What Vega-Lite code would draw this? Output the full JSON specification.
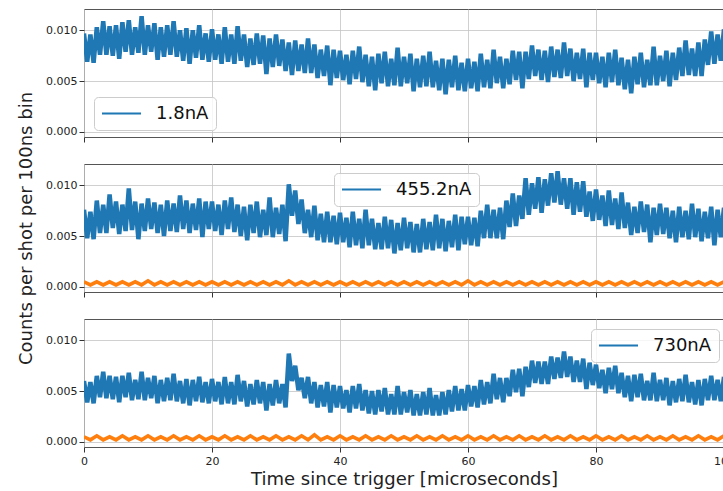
{
"$schema": "https://vega.github.io/schema/vega-lite/v6.json",
"background": "white",
"padding": {"left": 17, "top": 8, "right": -3, "bottom": 0},
"bounds": "flush",
"spacing": 27,
"config": {
 "font": "DejaVu Sans",
 "view": {"stroke": "#555", "strokeWidth": 1},
 "axis": {"labelFont": "DejaVu Sans", "labelFontSize": 11, "labelColor": "#222", "tickColor": "#333", "tickSize": 5, "grid": true, "gridColor": "#c4c4c4", "gridWidth": 0.8, "domain": false, "labelFlush": false, "titleFont": "DejaVu Sans", "titleFontSize": 18, "titleFontWeight": "normal", "titleColor": "#222"},
 "legend": {"orient": "none", "title": null, "symbolType": "stroke", "symbolSize": 1521, "symbolStrokeWidth": 2, "clipHeight": 19, "labelFont": "DejaVu Sans", "labelFontSize": 18, "labelColor": "#111", "labelOffset": 14, "padding": 7, "strokeColor": "#cccccc", "fillColor": "rgba(255,255,255,0.8)", "cornerRadius": 4}
},
"resolve": {"scale": {"color": "independent"}, "legend": {"color": "independent"}},
"datasets": {
"p1": [{"t":0,"v":0.0097},{"t":0.5,"v":0.0069},{"t":1,"v":0.0096},{"t":1.5,"v":0.0068},{"t":2,"v":0.0103},{"t":2.5,"v":0.0076},{"t":3,"v":0.0109},{"t":3.5,"v":0.0076},{"t":4,"v":0.0104},{"t":4.5,"v":0.0075},{"t":5,"v":0.0105},{"t":5.5,"v":0.0072},{"t":6,"v":0.0108},{"t":6.5,"v":0.0079},{"t":7,"v":0.011},{"t":7.5,"v":0.0076},{"t":8,"v":0.0103},{"t":8.5,"v":0.0078},{"t":9,"v":0.0114},{"t":9.5,"v":0.0076},{"t":10,"v":0.0105},{"t":10.5,"v":0.0079},{"t":11,"v":0.0107},{"t":11.5,"v":0.0071},{"t":12,"v":0.0103},{"t":12.5,"v":0.0074},{"t":13,"v":0.0105},{"t":13.5,"v":0.0076},{"t":14,"v":0.0109},{"t":14.5,"v":0.0074},{"t":15,"v":0.01},{"t":15.5,"v":0.007},{"t":16,"v":0.0102},{"t":16.5,"v":0.0067},{"t":17,"v":0.01},{"t":17.5,"v":0.0073},{"t":18,"v":0.0105},{"t":18.5,"v":0.0071},{"t":19,"v":0.0097},{"t":19.5,"v":0.0069},
{"t":20,"v":0.0101},{"t":20.5,"v":0.0071},{"t":21,"v":0.0096},{"t":21.5,"v":0.0067},{"t":22,"v":0.0103},{"t":22.5,"v":0.0069},{"t":23,"v":0.0096},{"t":23.5,"v":0.0067},{"t":24,"v":0.0104},{"t":24.5,"v":0.007},{"t":25,"v":0.0096},{"t":25.5,"v":0.0064},{"t":26,"v":0.0092},{"t":26.5,"v":0.0066},{"t":27,"v":0.0097},{"t":27.5,"v":0.0067},{"t":28,"v":0.0095},{"t":28.5,"v":0.0057},{"t":29,"v":0.0092},{"t":29.5,"v":0.0064},{"t":30,"v":0.0096},{"t":30.5,"v":0.0065},{"t":31,"v":0.0091},{"t":31.5,"v":0.006},{"t":32,"v":0.0088},{"t":32.5,"v":0.0056},{"t":33,"v":0.009},{"t":33.5,"v":0.006},{"t":34,"v":0.0086},{"t":34.5,"v":0.0058},{"t":35,"v":0.0092},{"t":35.5,"v":0.0058},{"t":36,"v":0.0086},{"t":36.5,"v":0.0053},{"t":37,"v":0.0081},{"t":37.5,"v":0.0055},{"t":38,"v":0.0085},{"t":38.5,"v":0.0046},{"t":39,"v":0.0081},{"t":39.5,"v":0.0053},
{"t":40,"v":0.008},{"t":40.5,"v":0.0051},{"t":41,"v":0.0076},{"t":41.5,"v":0.0047},{"t":42,"v":0.008},{"t":42.5,"v":0.0052},{"t":43,"v":0.0084},{"t":43.5,"v":0.0049},{"t":44,"v":0.0076},{"t":44.5,"v":0.0045},{"t":45,"v":0.0074},{"t":45.5,"v":0.0041},{"t":46,"v":0.0077},{"t":46.5,"v":0.0048},{"t":47,"v":0.0079},{"t":47.5,"v":0.0045},{"t":48,"v":0.0072},{"t":48.5,"v":0.0046},{"t":49,"v":0.0083},{"t":49.5,"v":0.0045},{"t":50,"v":0.0074},{"t":50.5,"v":0.0048},{"t":51,"v":0.0077},{"t":51.5,"v":0.004},{"t":52,"v":0.0072},{"t":52.5,"v":0.0044},{"t":53,"v":0.0075},{"t":53.5,"v":0.0045},{"t":54,"v":0.0079},{"t":54.5,"v":0.0044},{"t":55,"v":0.007},{"t":55.5,"v":0.0041},{"t":56,"v":0.0072},{"t":56.5,"v":0.0037},{"t":57,"v":0.0071},{"t":57.5,"v":0.0044},{"t":58,"v":0.0075},{"t":58.5,"v":0.0041},{"t":59,"v":0.0068},{"t":59.5,"v":0.004},
{"t":60,"v":0.0072},{"t":60.5,"v":0.0043},{"t":61,"v":0.0069},{"t":61.5,"v":0.004},{"t":62,"v":0.0077},{"t":62.5,"v":0.0044},{"t":63,"v":0.0071},{"t":63.5,"v":0.0043},{"t":64,"v":0.0081},{"t":64.5,"v":0.0048},{"t":65,"v":0.0074},{"t":65.5,"v":0.0043},{"t":66,"v":0.0072},{"t":66.5,"v":0.0047},{"t":67,"v":0.008},{"t":67.5,"v":0.0051},{"t":68,"v":0.0079},{"t":68.5,"v":0.0043},{"t":69,"v":0.0079},{"t":69.5,"v":0.0052},{"t":70,"v":0.0085},{"t":70.5,"v":0.0055},{"t":71,"v":0.0081},{"t":71.5,"v":0.0051},{"t":72,"v":0.008},{"t":72.5,"v":0.0049},{"t":73,"v":0.0084},{"t":73.5,"v":0.0054},{"t":74,"v":0.0081},{"t":74.5,"v":0.0053},{"t":75,"v":0.0088},{"t":75.5,"v":0.0055},{"t":76,"v":0.0082},{"t":76.5,"v":0.005},{"t":77,"v":0.0078},{"t":77.5,"v":0.0052},{"t":78,"v":0.0082},{"t":78.5,"v":0.0044},{"t":79,"v":0.0078},{"t":79.5,"v":0.0051},
{"t":80,"v":0.0078},{"t":80.5,"v":0.0048},{"t":81,"v":0.0074},{"t":81.5,"v":0.0044},{"t":82,"v":0.0078},{"t":82.5,"v":0.0049},{"t":83,"v":0.0081},{"t":83.5,"v":0.0046},{"t":84,"v":0.0073},{"t":84.5,"v":0.0042},{"t":85,"v":0.0071},{"t":85.5,"v":0.0038},{"t":86,"v":0.0074},{"t":86.5,"v":0.0047},{"t":87,"v":0.0078},{"t":87.5,"v":0.0044},{"t":88,"v":0.0071},{"t":88.5,"v":0.0046},{"t":89,"v":0.0084},{"t":89.5,"v":0.0046},{"t":90,"v":0.0075},{"t":90.5,"v":0.005},{"t":91,"v":0.008},{"t":91.5,"v":0.0045},{"t":92,"v":0.0078},{"t":92.5,"v":0.0051},{"t":93,"v":0.0083},{"t":93.5,"v":0.0055},{"t":94,"v":0.009},{"t":94.5,"v":0.0056},{"t":95,"v":0.0082},{"t":95.5,"v":0.0055},{"t":96,"v":0.0088},{"t":96.5,"v":0.0055},{"t":97,"v":0.0091},{"t":97.5,"v":0.0066},{"t":98,"v":0.0099},{"t":98.5,"v":0.0067},{"t":99,"v":0.0096},{"t":99.5,"v":0.007},{"t":100,"v":0.0101}],
"p2": [{"t":0,"v":0.0076},{"t":0.5,"v":0.0048},{"t":1,"v":0.0074},{"t":1.5,"v":0.0047},{"t":2,"v":0.0085},{"t":2.5,"v":0.0053},{"t":3,"v":0.0081},{"t":3.5,"v":0.0053},{"t":4,"v":0.0091},{"t":4.5,"v":0.0058},{"t":5,"v":0.0084},{"t":5.5,"v":0.0052},{"t":6,"v":0.0081},{"t":6.5,"v":0.0055},{"t":7,"v":0.0097},{"t":7.5,"v":0.0056},{"t":8,"v":0.0084},{"t":8.5,"v":0.0047},{"t":9,"v":0.0082},{"t":9.5,"v":0.0055},{"t":10,"v":0.0087},{"t":10.5,"v":0.0057},{"t":11,"v":0.0083},{"t":11.5,"v":0.0053},{"t":12,"v":0.0081},{"t":12.5,"v":0.005},{"t":13,"v":0.0085},{"t":13.5,"v":0.0055},{"t":14,"v":0.0082},{"t":14.5,"v":0.0054},{"t":15,"v":0.009},{"t":15.5,"v":0.0057},{"t":16,"v":0.0085},{"t":16.5,"v":0.0053},{"t":17,"v":0.0082},{"t":17.5,"v":0.0056},{"t":18,"v":0.0087},{"t":18.5,"v":0.0049},{"t":19,"v":0.0084},{"t":19.5,"v":0.0057},
{"t":20,"v":0.0084},{"t":20.5,"v":0.0055},{"t":21,"v":0.0081},{"t":21.5,"v":0.0051},{"t":22,"v":0.0085},{"t":22.5,"v":0.0057},{"t":23,"v":0.0088},{"t":23.5,"v":0.0054},{"t":24,"v":0.0081},{"t":24.5,"v":0.005},{"t":25,"v":0.0079},{"t":25.5,"v":0.0046},{"t":26,"v":0.0081},{"t":26.5,"v":0.0053},{"t":27,"v":0.0084},{"t":27.5,"v":0.0049},{"t":28,"v":0.0076},{"t":28.5,"v":0.0051},{"t":29,"v":0.0088},{"t":29.5,"v":0.0049},{"t":30,"v":0.0078},{"t":30.5,"v":0.0052},{"t":31,"v":0.0081},{"t":31.5,"v":0.0045},{"t":32,"v":0.0101},{"t":32.5,"v":0.007},{"t":33,"v":0.0095},{"t":33.5,"v":0.0062},{"t":34,"v":0.0086},{"t":34.5,"v":0.0053},{"t":35,"v":0.0076},{"t":35.5,"v":0.0049},{"t":36,"v":0.008},{"t":36.5,"v":0.0046},{"t":37,"v":0.0072},{"t":37.5,"v":0.0044},{"t":38,"v":0.0074},{"t":38.5,"v":0.0044},{"t":39,"v":0.007},{"t":39.5,"v":0.0042},
{"t":40,"v":0.0073},{"t":40.5,"v":0.0044},{"t":41,"v":0.0068},{"t":41.5,"v":0.0039},{"t":42,"v":0.0074},{"t":42.5,"v":0.0041},{"t":43,"v":0.0067},{"t":43.5,"v":0.0038},{"t":44,"v":0.0076},{"t":44.5,"v":0.0041},{"t":45,"v":0.0067},{"t":45.5,"v":0.0037},{"t":46,"v":0.0063},{"t":46.5,"v":0.0037},{"t":47,"v":0.0069},{"t":47.5,"v":0.0038},{"t":48,"v":0.0066},{"t":48.5,"v":0.0033},{"t":49,"v":0.0063},{"t":49.5,"v":0.0036},{"t":50,"v":0.0068},{"t":50.5,"v":0.0038},{"t":51,"v":0.0064},{"t":51.5,"v":0.0034},{"t":52,"v":0.0062},{"t":52.5,"v":0.0034},{"t":53,"v":0.0067},{"t":53.5,"v":0.0037},{"t":54,"v":0.0064},{"t":54.5,"v":0.0036},{"t":55,"v":0.0071},{"t":55.5,"v":0.0038},{"t":56,"v":0.0067},{"t":56.5,"v":0.0035},{"t":57,"v":0.0065},{"t":57.5,"v":0.0039},{"t":58,"v":0.0071},{"t":58.5,"v":0.0036},{"t":59,"v":0.0069},{"t":59.5,"v":0.0042},
{"t":60,"v":0.0069},{"t":60.5,"v":0.0041},{"t":61,"v":0.0068},{"t":61.5,"v":0.004},{"t":62,"v":0.0075},{"t":62.5,"v":0.0048},{"t":63,"v":0.0081},{"t":63.5,"v":0.0048},{"t":64,"v":0.0076},{"t":64.5,"v":0.0048},{"t":65,"v":0.0078},{"t":65.5,"v":0.0047},{"t":66,"v":0.0085},{"t":66.5,"v":0.0059},{"t":67,"v":0.0092},{"t":67.5,"v":0.006},{"t":68,"v":0.009},{"t":68.5,"v":0.0067},{"t":69,"v":0.0107},{"t":69.5,"v":0.0071},{"t":70,"v":0.0102},{"t":70.5,"v":0.0077},{"t":71,"v":0.0108},{"t":71.5,"v":0.0073},{"t":72,"v":0.0106},{"t":72.5,"v":0.008},{"t":73,"v":0.0112},{"t":73.5,"v":0.0083},{"t":74,"v":0.0114},{"t":74.5,"v":0.0081},{"t":75,"v":0.0107},{"t":75.5,"v":0.0077},{"t":76,"v":0.0107},{"t":76.5,"v":0.0071},{"t":77,"v":0.0103},{"t":77.5,"v":0.0074},{"t":78,"v":0.0104},{"t":78.5,"v":0.0069},{"t":79,"v":0.0094},{"t":79.5,"v":0.0065},
{"t":80,"v":0.0096},{"t":80.5,"v":0.0066},{"t":81,"v":0.009},{"t":81.5,"v":0.006},{"t":82,"v":0.0095},{"t":82.5,"v":0.0061},{"t":83,"v":0.0087},{"t":83.5,"v":0.0057},{"t":84,"v":0.0093},{"t":84.5,"v":0.0058},{"t":85,"v":0.0083},{"t":85.5,"v":0.0051},{"t":86,"v":0.0079},{"t":86.5,"v":0.0053},{"t":87,"v":0.0084},{"t":87.5,"v":0.0054},{"t":88,"v":0.0081},{"t":88.5,"v":0.0044},{"t":89,"v":0.0078},{"t":89.5,"v":0.0051},{"t":90,"v":0.0082},{"t":90.5,"v":0.0052},{"t":91,"v":0.0078},{"t":91.5,"v":0.0048},{"t":92,"v":0.0075},{"t":92.5,"v":0.0044},{"t":93,"v":0.0079},{"t":93.5,"v":0.0049},{"t":94,"v":0.0075},{"t":94.5,"v":0.0047},{"t":95,"v":0.0082},{"t":95.5,"v":0.0049},{"t":96,"v":0.0077},{"t":96.5,"v":0.0045},{"t":97,"v":0.0074},{"t":97.5,"v":0.0048},{"t":98,"v":0.0079},{"t":98.5,"v":0.0041},{"t":99,"v":0.0076},{"t":99.5,"v":0.0049},{"t":100,"v":0.0078}],
"p3": [{"t":0,"v":0.006},{"t":0.5,"v":0.0039},{"t":1,"v":0.0059},{"t":1.5,"v":0.0038},{"t":2,"v":0.0065},{"t":2.5,"v":0.0044},{"t":3,"v":0.0069},{"t":3.5,"v":0.0043},{"t":4,"v":0.0065},{"t":4.5,"v":0.0042},{"t":5,"v":0.0064},{"t":5.5,"v":0.0039},{"t":6,"v":0.0065},{"t":6.5,"v":0.0044},{"t":7,"v":0.0068},{"t":7.5,"v":0.0041},{"t":8,"v":0.0061},{"t":8.5,"v":0.0042},{"t":9,"v":0.0069},{"t":9.5,"v":0.0041},{"t":10,"v":0.0063},{"t":10.5,"v":0.0043},{"t":11,"v":0.0065},{"t":11.5,"v":0.0038},{"t":12,"v":0.0061},{"t":12.5,"v":0.004},{"t":13,"v":0.0063},{"t":13.5,"v":0.0041},{"t":14,"v":0.0067},{"t":14.5,"v":0.004},{"t":15,"v":0.006},{"t":15.5,"v":0.0038},{"t":16,"v":0.0062},{"t":16.5,"v":0.0036},{"t":17,"v":0.0061},{"t":17.5,"v":0.004},{"t":18,"v":0.0064},{"t":18.5,"v":0.0039},{"t":19,"v":0.0059},{"t":19.5,"v":0.0038},
{"t":20,"v":0.0062},{"t":20.5,"v":0.004},{"t":21,"v":0.0059},{"t":21.5,"v":0.0037},{"t":22,"v":0.0064},{"t":22.5,"v":0.0038},{"t":23,"v":0.0059},{"t":23.5,"v":0.0037},{"t":24,"v":0.0066},{"t":24.5,"v":0.004},{"t":25,"v":0.006},{"t":25.5,"v":0.0035},{"t":26,"v":0.0057},{"t":26.5,"v":0.0037},{"t":27,"v":0.0061},{"t":27.5,"v":0.0038},{"t":28,"v":0.0059},{"t":28.5,"v":0.0031},{"t":29,"v":0.0057},{"t":29.5,"v":0.0036},{"t":30,"v":0.0061},{"t":30.5,"v":0.0038},{"t":31,"v":0.0057},{"t":31.5,"v":0.0034},{"t":32,"v":0.0087},{"t":32.5,"v":0.006},{"t":33,"v":0.0075},{"t":33.5,"v":0.0051},{"t":34,"v":0.0063},{"t":34.5,"v":0.0043},{"t":35,"v":0.0064},{"t":35.5,"v":0.0038},{"t":36,"v":0.0059},{"t":36.5,"v":0.0034},{"t":37,"v":0.0056},{"t":37.5,"v":0.0035},{"t":38,"v":0.0059},{"t":38.5,"v":0.0029},{"t":39,"v":0.0056},{"t":39.5,"v":0.0034},
{"t":40,"v":0.0055},{"t":40.5,"v":0.0033},{"t":41,"v":0.0051},{"t":41.5,"v":0.0029},{"t":42,"v":0.0055},{"t":42.5,"v":0.0033},{"t":43,"v":0.0057},{"t":43.5,"v":0.0031},{"t":44,"v":0.0051},{"t":44.5,"v":0.0028},{"t":45,"v":0.005},{"t":45.5,"v":0.0027},{"t":46,"v":0.0051},{"t":46.5,"v":0.003},{"t":47,"v":0.0053},{"t":47.5,"v":0.0027},{"t":48,"v":0.0047},{"t":48.5,"v":0.0027},{"t":49,"v":0.0055},{"t":49.5,"v":0.0027},{"t":50,"v":0.0049},{"t":50.5,"v":0.0029},{"t":51,"v":0.0051},{"t":51.5,"v":0.0026},{"t":52,"v":0.0047},{"t":52.5,"v":0.0026},{"t":53,"v":0.0049},{"t":53.5,"v":0.0027},{"t":54,"v":0.0053},{"t":54.5,"v":0.0026},{"t":55,"v":0.0046},{"t":55.5,"v":0.0026},{"t":56,"v":0.0049},{"t":56.5,"v":0.0027},{"t":57,"v":0.0051},{"t":57.5,"v":0.003},{"t":58,"v":0.0055},{"t":58.5,"v":0.0031},{"t":59,"v":0.0052},{"t":59.5,"v":0.0031},
{"t":60,"v":0.0056},{"t":60.5,"v":0.0035},{"t":61,"v":0.0055},{"t":61.5,"v":0.0034},{"t":62,"v":0.0061},{"t":62.5,"v":0.0037},{"t":63,"v":0.0059},{"t":63.5,"v":0.0038},{"t":64,"v":0.0067},{"t":64.5,"v":0.0042},{"t":65,"v":0.0063},{"t":65.5,"v":0.0039},{"t":66,"v":0.0063},{"t":66.5,"v":0.0045},{"t":67,"v":0.0071},{"t":67.5,"v":0.0049},{"t":68,"v":0.0072},{"t":68.5,"v":0.0045},{"t":69,"v":0.0074},{"t":69.5,"v":0.0054},{"t":70,"v":0.008},{"t":70.5,"v":0.0058},{"t":71,"v":0.0079},{"t":71.5,"v":0.0057},{"t":72,"v":0.0079},{"t":72.5,"v":0.0057},{"t":73,"v":0.0084},{"t":73.5,"v":0.0062},{"t":74,"v":0.0083},{"t":74.5,"v":0.0063},{"t":75,"v":0.0089},{"t":75.5,"v":0.0064},{"t":76,"v":0.0084},{"t":76.5,"v":0.0059},{"t":77,"v":0.008},{"t":77.5,"v":0.0059},{"t":78,"v":0.0082},{"t":78.5,"v":0.0052},{"t":79,"v":0.0078},{"t":79.5,"v":0.0056},
{"t":80,"v":0.0076},{"t":80.5,"v":0.0053},{"t":81,"v":0.0071},{"t":81.5,"v":0.0048},{"t":82,"v":0.0073},{"t":82.5,"v":0.0052},{"t":83,"v":0.0075},{"t":83.5,"v":0.0048},{"t":84,"v":0.0068},{"t":84.5,"v":0.0044},{"t":85,"v":0.0065},{"t":85.5,"v":0.004},{"t":86,"v":0.0066},{"t":86.5,"v":0.0044},{"t":87,"v":0.0067},{"t":87.5,"v":0.0041},{"t":88,"v":0.006},{"t":88.5,"v":0.0041},{"t":89,"v":0.0068},{"t":89.5,"v":0.004},{"t":90,"v":0.0061},{"t":90.5,"v":0.0041},{"t":91,"v":0.0063},{"t":91.5,"v":0.0036},{"t":92,"v":0.006},{"t":92.5,"v":0.0039},{"t":93,"v":0.0062},{"t":93.5,"v":0.004},{"t":94,"v":0.0066},{"t":94.5,"v":0.0039},{"t":95,"v":0.0059},{"t":95.5,"v":0.0037},{"t":96,"v":0.0061},{"t":96.5,"v":0.0036},{"t":97,"v":0.0062},{"t":97.5,"v":0.0041},{"t":98,"v":0.0065},{"t":98.5,"v":0.0041},{"t":99,"v":0.0061},{"t":99.5,"v":0.004},{"t":100,"v":0.0064}],
"o2": [{"t":0,"v":0.0005},{"t":1,"v":0.0002},{"t":2,"v":0.0005},{"t":3,"v":0.0002},{"t":4,"v":0.0005},{"t":5,"v":0.0002},{"t":6,"v":0.0005},{"t":7,"v":0.0002},{"t":8,"v":0.0005},{"t":9,"v":0.0002},{"t":10,"v":0.0006},{"t":11,"v":0.0002},{"t":12,"v":0.0005},{"t":13,"v":0.0002},{"t":14,"v":0.0005},{"t":15,"v":0.0002},{"t":16,"v":0.0005},{"t":17,"v":0.0002},{"t":18,"v":0.0005},{"t":19,"v":0.0002},{"t":20,"v":0.0005},{"t":21,"v":0.0002},{"t":22,"v":0.0005},{"t":23,"v":0.0002},{"t":24,"v":0.0005},{"t":25,"v":0.0002},{"t":26,"v":0.0005},{"t":27,"v":0.0002},{"t":28,"v":0.0005},{"t":29,"v":0.0002},{"t":30,"v":0.0005},{"t":31,"v":0.0002},{"t":32,"v":0.0006},{"t":33,"v":0.0002},{"t":34,"v":0.0005},{"t":35,"v":0.0002},{"t":36,"v":0.0005},{"t":37,"v":0.0002},{"t":38,"v":0.0005},{"t":39,"v":0.0002},{"t":40,"v":0.0005},{"t":41,"v":0.0002},{"t":42,"v":0.0005},{"t":43,"v":0.0002},{"t":44,"v":0.0005},{"t":45,"v":0.0002},{"t":46,"v":0.0005},{"t":47,"v":0.0002},{"t":48,"v":0.0005},{"t":49,"v":0.0002},{"t":50,"v":0.0005},{"t":51,"v":0.0002},{"t":52,"v":0.0005},{"t":53,"v":0.0002},{"t":54,"v":0.0005},{"t":55,"v":0.0002},{"t":56,"v":0.0005},{"t":57,"v":0.0002},{"t":58,"v":0.0005},{"t":59,"v":0.0002},{"t":60,"v":0.0006},{"t":61,"v":0.0002},{"t":62,"v":0.0005},{"t":63,"v":0.0002},{"t":64,"v":0.0005},{"t":65,"v":0.0002},{"t":66,"v":0.0005},{"t":67,"v":0.0002},{"t":68,"v":0.0005},{"t":69,"v":0.0002},{"t":70,"v":0.0005},{"t":71,"v":0.0002},{"t":72,"v":0.0005},{"t":73,"v":0.0002},{"t":74,"v":0.0005},{"t":75,"v":0.0002},{"t":76,"v":0.0005},{"t":77,"v":0.0002},{"t":78,"v":0.0005},{"t":79,"v":0.0002},{"t":80,"v":0.0005},{"t":81,"v":0.0002},{"t":82,"v":0.0005},{"t":83,"v":0.0002},{"t":84,"v":0.0005},{"t":85,"v":0.0002},{"t":86,"v":0.0005},{"t":87,"v":0.0002},{"t":88,"v":0.0005},{"t":89,"v":0.0002},{"t":90,"v":0.0005},{"t":91,"v":0.0002},{"t":92,"v":0.0005},{"t":93,"v":0.0002},{"t":94,"v":0.0005},{"t":95,"v":0.0002},{"t":96,"v":0.0005},{"t":97,"v":0.0002},{"t":98,"v":0.0005},{"t":99,"v":0.0002},{"t":100,"v":0.0005}],
"o3": [{"t":0,"v":0.0005},{"t":1,"v":0.0002},{"t":2,"v":0.0006},{"t":3,"v":0.0002},{"t":4,"v":0.0005},{"t":5,"v":0.0002},{"t":6,"v":0.0006},{"t":7,"v":0.0002},{"t":8,"v":0.0005},{"t":9,"v":0.0002},{"t":10,"v":0.0006},{"t":11,"v":0.0002},{"t":12,"v":0.0005},{"t":13,"v":0.0002},{"t":14,"v":0.0006},{"t":15,"v":0.0002},{"t":16,"v":0.0005},{"t":17,"v":0.0002},{"t":18,"v":0.0006},{"t":19,"v":0.0002},{"t":20,"v":0.0005},{"t":21,"v":0.0002},{"t":22,"v":0.0006},{"t":23,"v":0.0002},{"t":24,"v":0.0005},{"t":25,"v":0.0002},{"t":26,"v":0.0006},{"t":27,"v":0.0002},{"t":28,"v":0.0005},{"t":29,"v":0.0002},{"t":30,"v":0.0006},{"t":31,"v":0.0002},{"t":32,"v":0.0005},{"t":33,"v":0.0002},{"t":34,"v":0.0006},{"t":35,"v":0.0002},{"t":36,"v":0.0007},{"t":37,"v":0.0002},{"t":38,"v":0.0005},{"t":39,"v":0.0002},{"t":40,"v":0.0006},{"t":41,"v":0.0002},{"t":42,"v":0.0005},{"t":43,"v":0.0002},{"t":44,"v":0.0006},{"t":45,"v":0.0002},{"t":46,"v":0.0005},{"t":47,"v":0.0002},{"t":48,"v":0.0006},{"t":49,"v":0.0002},{"t":50,"v":0.0005},{"t":51,"v":0.0002},{"t":52,"v":0.0006},{"t":53,"v":0.0002},{"t":54,"v":0.0005},{"t":55,"v":0.0002},{"t":56,"v":0.0006},{"t":57,"v":0.0002},{"t":58,"v":0.0005},{"t":59,"v":0.0002},{"t":60,"v":0.0006},{"t":61,"v":0.0002},{"t":62,"v":0.0005},{"t":63,"v":0.0002},{"t":64,"v":0.0006},{"t":65,"v":0.0002},{"t":66,"v":0.0005},{"t":67,"v":0.0002},{"t":68,"v":0.0006},{"t":69,"v":0.0002},{"t":70,"v":0.0005},{"t":71,"v":0.0002},{"t":72,"v":0.0006},{"t":73,"v":0.0002},{"t":74,"v":0.0005},{"t":75,"v":0.0002},{"t":76,"v":0.0006},{"t":77,"v":0.0002},{"t":78,"v":0.0005},{"t":79,"v":0.0002},{"t":80,"v":0.0006},{"t":81,"v":0.0002},{"t":82,"v":0.0005},{"t":83,"v":0.0002},{"t":84,"v":0.0006},{"t":85,"v":0.0002},{"t":86,"v":0.0005},{"t":87,"v":0.0002},{"t":88,"v":0.0006},{"t":89,"v":0.0002},{"t":90,"v":0.0005},{"t":91,"v":0.0002},{"t":92,"v":0.0006},{"t":93,"v":0.0002},{"t":94,"v":0.0005},{"t":95,"v":0.0002},{"t":96,"v":0.0006},{"t":97,"v":0.0002},{"t":98,"v":0.0005},{"t":99,"v":0.0002},{"t":100,"v":0.0006}]
},
"vconcat": [
 {"width": 640, "height": 128,
  "layer": [
   {"data": {"name": "p1"}, "mark": {"type": "line", "strokeWidth": 4.5, "clip": true},
    "encoding": {
     "x": {"field": "t", "type": "quantitative", "scale": {"domain": [0, 100], "nice": false}, "axis": {"values": [0, 20, 40, 60, 80, 100], "labels": false, "title": null}},
     "y": {"field": "v", "type": "quantitative", "scale": {"domain": [-0.0005, 0.0121], "nice": false, "zero": false}, "axis": {"values": [0, 0.005, 0.01], "format": ".3f", "title": null, "labelPadding": 2}},
     "color": {"datum": "1.8nA", "scale": {"range": ["#1f77b4"]}, "legend": {"legendX": 10, "legendY": 88}}
    }}
  ]},
 {"width": 640, "height": 128,
  "layer": [
   {"data": {"name": "o2"}, "mark": {"type": "line", "strokeWidth": 3.6, "color": "#ff7f0e", "clip": true},
    "encoding": {
     "x": {"field": "t", "type": "quantitative", "scale": {"domain": [0, 100], "nice": false}, "axis": {"values": [0, 20, 40, 60, 80, 100], "labels": false, "title": null}},
     "y": {"field": "v", "type": "quantitative", "scale": {"domain": [-0.0005, 0.0121], "nice": false, "zero": false}, "axis": {"values": [0, 0.005, 0.01], "format": ".3f", "title": "Counts per shot per 100ns bin", "titlePadding": 10, "labelPadding": 2}}
    }},
   {"data": {"name": "p2"}, "mark": {"type": "line", "strokeWidth": 4.5, "clip": true},
    "encoding": {
     "x": {"field": "t", "type": "quantitative"},
     "y": {"field": "v", "type": "quantitative"},
     "color": {"datum": "455.2nA", "scale": {"range": ["#1f77b4"]}, "legend": {"legendX": 250, "legendY": 9}}
    }}
  ]},
 {"width": 640, "height": 128,
  "layer": [
   {"data": {"name": "o3"}, "mark": {"type": "line", "strokeWidth": 3.6, "color": "#ff7f0e", "clip": true},
    "encoding": {
     "x": {"field": "t", "type": "quantitative", "scale": {"domain": [0, 100], "nice": false}, "axis": {"values": [0, 20, 40, 60, 80, 100], "title": "Time since trigger [microseconds]", "labelPadding": 3, "titlePadding": 4}},
     "y": {"field": "v", "type": "quantitative", "scale": {"domain": [-0.0005, 0.0121], "nice": false, "zero": false}, "axis": {"values": [0, 0.005, 0.01], "format": ".3f", "title": null, "labelPadding": 2}}
    }},
   {"data": {"name": "p3"}, "mark": {"type": "line", "strokeWidth": 4.5, "clip": true},
    "encoding": {
     "x": {"field": "t", "type": "quantitative"},
     "y": {"field": "v", "type": "quantitative"},
     "color": {"datum": "730nA", "scale": {"range": ["#1f77b4"]}, "legend": {"legendX": 507, "legendY": 10}}
    }}
  ]}
]
}
